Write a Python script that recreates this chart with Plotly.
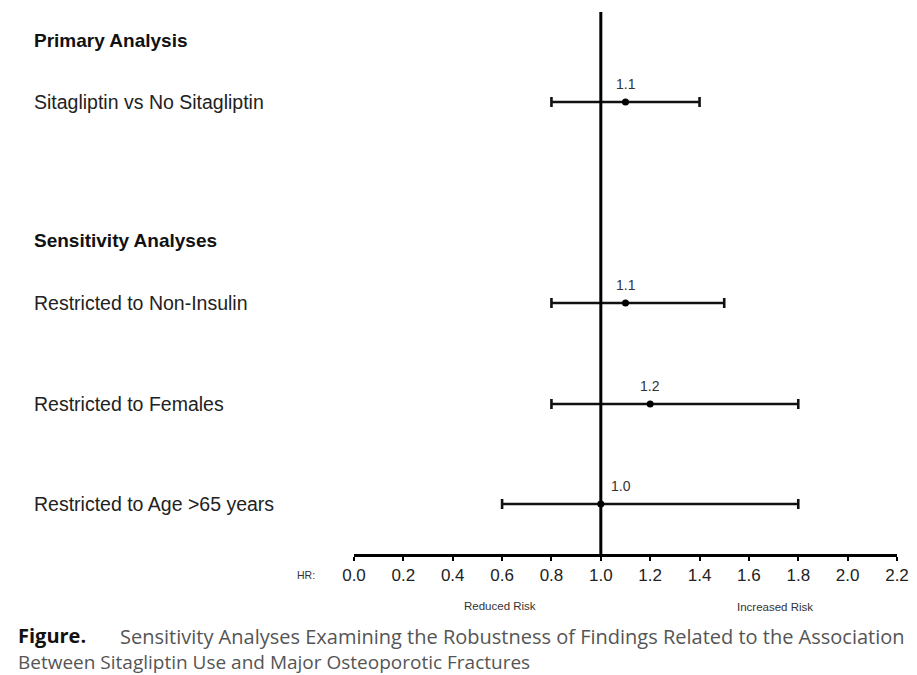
import plotly.graph_objects as go

# ---- data ----
categories = ["Sitagliptin vs No Sitagliptin", "Restricted to Non-Insulin",
              "Restricted to Females", "Restricted to Age >65 years"]
hr = [1.1, 1.1, 1.2, 1.0]
ci_low = [0.8, 0.8, 0.8, 0.6]
ci_high = [1.4, 1.5, 1.8, 1.8]
hr_labels = ["1.1", "1.1", "1.2", "1.0"]
headers = ["Primary Analysis", "Sensitivity Analyses"]
tick_vals = [0.0, 0.2, 0.4, 0.6, 0.8, 1.0, 1.2, 1.4, 1.6, 1.8, 2.0, 2.2]
tick_text = ["0.0", "0.2", "0.4", "0.6", "0.8", "1.0", "1.2", "1.4", "1.6", "1.8", "2.0", "2.2"]
caption_bold = "Figure."
caption_line1 = "Sensitivity Analyses Examining the Robustness of Findings Related to the Association"
caption_line2 = "Between Sitagliptin Use and Major Osteoporotic Fractures"

# ---- layout (row slots) ----
row_pos = [1.0, 3.01, 4.02, 5.02]
header_pos = [0.38, 2.38]
label_xshift = [0, 0, 0, 20]

OFF = 8  # default page body margin
W, H = 917 - OFF, 675 - OFF
ML = 354 - OFF
MR = W - (897 - OFF)
MT = 12 - OFF
MB = H - (554 - OFF)
PW = W - ML - MR
PH = H - MT - MB


def px_x(px):
    return (px - OFF - ML) / PW


def px_y(py):
    return (H - MB - (py - OFF)) / PH


FONT = "Liberation Sans, Arial, sans-serif"
CAP = "Open Sans, sans-serif"

fig = go.Figure()
fig.add_trace(go.Scatter(
    x=hr, y=row_pos, mode="markers",
    marker=dict(color="black", size=7),
    error_x=dict(type="data", symmetric=False,
                 array=[h - v for h, v in zip(ci_high, hr)],
                 arrayminus=[v - l for v, l in zip(hr, ci_low)],
                 color="#111", thickness=2.6, width=5),
    showlegend=False, hoverinfo="skip", cliponaxis=False,
))

fig.add_shape(type="line", xref="x", yref="paper", x0=1.0, x1=1.0, y0=0, y1=1,
              line=dict(color="black", width=3))

ann = []
for v, lab, y, sh in zip(hr, hr_labels, row_pos, label_xshift):
    ann.append(dict(x=v, y=y, xref="x", yref="y", text=lab, showarrow=False,
                    xanchor="center", yanchor="middle",
                    xshift=sh, yshift=18, font=dict(family=FONT, size=14, color="#333")))
for c, y in zip(categories, row_pos):
    ann.append(dict(x=px_x(32), y=y, xref="paper", yref="y", text=c, showarrow=False,
                    xanchor="left", yanchor="middle",
                    font=dict(family=FONT, size=19.5, color="#222")))
for h, y in zip(headers, header_pos):
    ann.append(dict(x=px_x(32), y=y, xref="paper", yref="y", text="<b>" + h + "</b>",
                    showarrow=False, xanchor="left", yanchor="middle",
                    font=dict(family=FONT, size=19, color="#111")))
small = [("HR:", 306, 575, 10.5), ("Reduced Risk", 500, 606, 11.5), ("Increased Risk", 775, 607, 11.5)]
for t, x, y, s in small:
    ann.append(dict(x=px_x(x), y=px_y(y), xref="paper", yref="paper", text=t,
                    showarrow=False, xanchor="center", yanchor="middle",
                    font=dict(family=FONT, size=s, color="#333")))
ann.append(dict(x=px_x(16), y=px_y(635), xref="paper", yref="paper",
                text="<b>" + caption_bold + "</b>", showarrow=False,
                xanchor="left", yanchor="middle",
                font=dict(family=CAP, size=20, color="#111")))
ann.append(dict(x=px_x(118), y=px_y(636), xref="paper", yref="paper", text=caption_line1,
                showarrow=False, xanchor="left", yanchor="middle",
                font=dict(family=CAP, size=20, color="#555")))
ann.append(dict(x=px_x(16), y=px_y(662), xref="paper", yref="paper", text=caption_line2,
                showarrow=False, xanchor="left", yanchor="middle",
                font=dict(family=CAP, size=19, color="#555")))

fig.update_layout(
    width=W, height=H,
    margin=dict(l=ML, r=MR, t=MT, b=MB, pad=0),
    paper_bgcolor="white", plot_bgcolor="white",
    annotations=ann,
    xaxis=dict(range=[0, 2.2], tickvals=tick_vals, ticktext=tick_text,
               showgrid=False, zeroline=False, showline=True, linecolor="black",
               linewidth=3, ticks="outside", ticklen=4, tickwidth=2, tickcolor="black",
               ticklabeloverflow="allow",
               tickfont=dict(family=FONT, size=17, color="#222")),
    yaxis=dict(range=[5.52, 0.10], visible=False, showgrid=False, zeroline=False),
)

fig.write_html("out.html")
